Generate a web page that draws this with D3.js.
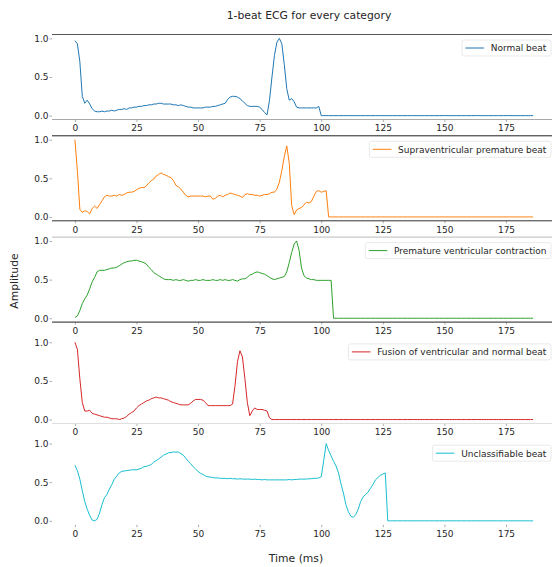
<!DOCTYPE html>
<html>
<head>
<meta charset="utf-8">
<script src="https://cdn.jsdelivr.net/npm/d3@7"></script>
<style>
    body { margin: 0; background: #fff; }
    text { font-family: 'DejaVu Sans', sans-serif; fill: #262626; }
</style>
</head>
<body>
<div id="chart"></div>
<script>
var categories = ['Normal beat', 'Supraventricular premature beat', 'Premature ventricular contraction',
    'Fusion of ventricular and normal beat', 'Unclassifiable beat'];

var normalBeat = [
    0.97,0.93,0.70,0.25,0.16,0.20,0.15,0.09,0.06,0.05,
    0.05,0.06,0.05,0.06,0.06,0.07,0.06,0.07,0.08,0.08,
    0.09,0.08,0.10,0.10,0.11,0.11,0.12,0.12,0.13,0.13,
    0.14,0.14,0.15,0.15,0.16,0.16,0.15,0.15,0.15,0.15,
    0.14,0.14,0.13,0.14,0.13,0.12,0.11,0.11,0.10,0.10,
    0.10,0.10,0.10,0.11,0.11,0.11,0.12,0.12,0.13,0.14,
    0.15,0.16,0.21,0.24,0.25,0.25,0.24,0.22,0.19,0.16,
    0.13,0.12,0.12,0.12,0.12,0.11,0.08,0.04,0.01,0.20,
    0.50,0.78,0.95,1.00,0.93,0.66,0.35,0.20,0.22,0.18,
    0.11,0.10,0.10,0.10,0.10,0.10,0.10,0.10,0.10,0.12,
    0,0,0,0,0,0,0,0,0,0, 0,0,0,0,0,0,0,0,0,0,
    0,0,0,0,0,0,0,0,0,0, 0,0,0,0,0,0,0,0,0,0,
    0,0,0,0,0,0,0,0,0,0, 0,0,0,0,0,0,0,0,0,0,
    0,0,0,0,0,0,0,0,0,0, 0,0,0,0,0,0,0,0,0,0,
    0,0,0,0,0,0,0
];

var supraBeat = [
    1.00,0.60,0.10,0.06,0.08,0.07,0.04,0.11,0.14,0.11,
    0.16,0.21,0.26,0.28,0.27,0.27,0.28,0.27,0.29,0.28,
    0.29,0.31,0.32,0.32,0.33,0.35,0.37,0.38,0.38,0.40,
    0.44,0.47,0.49,0.53,0.55,0.57,0.55,0.54,0.52,0.51,
    0.47,0.41,0.39,0.36,0.32,0.28,0.26,0.27,0.27,0.27,
    0.27,0.27,0.27,0.26,0.27,0.27,0.23,0.24,0.27,0.28,
    0.26,0.28,0.29,0.31,0.30,0.29,0.28,0.27,0.25,0.29,
    0.30,0.29,0.29,0.28,0.28,0.27,0.28,0.29,0.29,0.30,
    0.32,0.32,0.36,0.45,0.60,0.78,0.92,0.70,0.15,0.03,
    0.09,0.11,0.12,0.16,0.19,0.18,0.20,0.27,0.33,0.34,
    0.32,0.33,0.34,
    0,0,0,0,0,0,0,0,0,0, 0,0,0,0,0,0,0,0,0,0,
    0,0,0,0,0,0,0,0,0,0, 0,0,0,0,0,0,0,0,0,0,
    0,0,0,0,0,0,0,0,0,0, 0,0,0,0,0,0,0,0,0,0,
    0,0,0,0,0,0,0,0,0,0, 0,0,0,0,0,0,0,0,0,0,
    0,0,0,0
];

var pvcBeat = [
    0.01,0.03,0.10,0.19,0.25,0.30,0.38,0.47,0.53,0.60,
    0.62,0.62,0.62,0.63,0.64,0.65,0.65,0.66,0.68,0.70,
    0.72,0.73,0.74,0.74,0.75,0.75,0.74,0.73,0.72,0.70,
    0.66,0.63,0.59,0.57,0.55,0.53,0.51,0.50,0.50,0.50,
    0.49,0.50,0.49,0.49,0.50,0.49,0.48,0.49,0.49,0.50,
    0.49,0.49,0.50,0.49,0.49,0.49,0.50,0.49,0.49,0.50,
    0.49,0.50,0.49,0.49,0.50,0.49,0.48,0.50,0.51,0.51,
    0.53,0.56,0.57,0.59,0.60,0.59,0.58,0.57,0.55,0.53,
    0.51,0.50,0.51,0.52,0.53,0.54,0.60,0.72,0.85,0.96,
    1.00,0.88,0.65,0.55,0.52,0.51,0.50,0.50,0.49,0.49,
    0.49,0.49,0.49,0.49,0.49,
    0,0,0,0,0,0,0,0,0,0, 0,0,0,0,0,0,0,0,0,0,
    0,0,0,0,0,0,0,0,0,0, 0,0,0,0,0,0,0,0,0,0,
    0,0,0,0,0,0,0,0,0,0, 0,0,0,0,0,0,0,0,0,0,
    0,0,0,0,0,0,0,0,0,0, 0,0,0,0,0,0,0,0,0,0,
    0,0
];

var fusionBeat = [
    1.00,0.91,0.53,0.22,0.11,0.11,0.12,0.08,0.07,0.06,
    0.05,0.04,0.03,0.03,0.02,0.01,0.01,0.01,0.00,0.01,
    0.02,0.04,0.07,0.09,0.11,0.15,0.18,0.20,0.22,0.24,
    0.25,0.27,0.28,0.29,0.28,0.28,0.27,0.26,0.25,0.23,
    0.22,0.21,0.20,0.19,0.19,0.19,0.19,0.21,0.24,0.26,
    0.26,0.26,0.25,0.22,0.18,0.18,0.18,0.18,0.18,0.18,
    0.18,0.18,0.18,0.18,0.20,0.44,0.75,0.89,0.81,0.53,
    0.22,0.05,0.11,0.15,0.13,0.13,0.13,0.12,0.11,0.02,
    0,0,0,0,0,0,0,0,0,0, 0,0,0,0,0,0,0,0,0,0,
    0,0,0,0,0,0,0,0,0,0, 0,0,0,0,0,0,0,0,0,0,
    0,0,0,0,0,0,0,0,0,0, 0,0,0,0,0,0,0,0,0,0,
    0,0,0,0,0,0,0,0,0,0, 0,0,0,0,0,0,0,0,0,0,
    0,0,0,0,0,0,0,0,0,0, 0,0,0,0,0,0,0,0,0,0,
    0,0,0,0,0,0,0
];

var unknownBeat = [
    0.72,0.65,0.54,0.39,0.25,0.15,0.07,0.01,0.00,0.02,
    0.10,0.21,0.30,0.34,0.41,0.47,0.54,0.58,0.62,0.64,
    0.645,0.65,0.655,0.66,0.66,0.66,0.67,0.68,0.70,0.705,
    0.715,0.73,0.76,0.78,0.80,0.825,0.85,0.865,0.88,0.885,
    0.89,0.89,0.89,0.87,0.85,0.81,0.77,0.74,0.70,0.67,
    0.64,0.615,0.60,0.58,0.57,0.565,0.56,0.555,0.555,0.55,
    0.55,0.55,0.545,0.55,0.545,0.545,0.54,0.545,0.54,0.54,
    0.54,0.54,0.535,0.54,0.535,0.535,0.53,0.535,0.53,0.53,
    0.53,0.53,0.53,0.53,0.53,0.53,0.53,0.535,0.53,0.535,
    0.535,0.54,0.54,0.54,0.54,0.545,0.545,0.55,0.55,0.555,
    0.57,0.78,1.00,0.91,0.84,0.77,0.71,0.62,0.48,0.36,
    0.21,0.12,0.06,0.045,0.08,0.15,0.25,0.31,0.34,0.37,
    0.42,0.47,0.53,0.56,0.59,0.605,0.62,
    0,0,0,0,0,0,0,0,0,0, 0,0,0,0,0,0,0,0,0,0,
    0,0,0,0,0,0,0,0,0,0, 0,0,0,0,0,0,0,0,0,0,
    0,0,0,0,0,0,0,0,0,0, 0,0,0,0,0,0,0,0,0,0
];

var series = [normalBeat, supraBeat, pvcBeat, fusionBeat, unknownBeat];
var xTicks = [0, 25, 50, 75, 100, 125, 150, 175];
var yTicks = [0.0, 0.5, 1.0];

function drawEcg() {

    var width = 552, height = 567;
    var colors = ['#1f77b4', '#ff7f0e', '#2ca02c', '#d62728', '#17becf'];
    // the spines came out unevenly in the original picture
    var topSpine = ['#555', '#222', '#bbb', 'none', 'none'];
    var bottomSpine = ['#aaa', '#333', '#222', '#ddd', 'none'];

    var panelTop = 34.5, panelStep = 101.3, panelH = 85;
    var n = series[0].length;
    var pad = (n - 1) * 0.05;

    var canvas = d3.select('#chart').append('svg')
        .attr('width', width)
        .attr('height', height);

    var x = d3.scaleLinear()
        .domain([-pad, n - 1 + pad])
        .range([52, 556]);

    canvas.append('text')
        .attr('x', 309)
        .attr('y', 18.5)
        .attr('text-anchor', 'middle')
        .attr('font-size', '10.8px')
        .text('1-beat ECG for every category');

    series.forEach(function(values, i) {
        var top = panelTop + i * panelStep;
        var y = d3.scaleLinear()
            .domain([-0.05, 1.05])
            .range([top + panelH, top]);

        var group = canvas.append('g');

        var xAxis = group.append('g')
            .attr('transform', 'translate(0,' + (top + panelH) + ')')
            .call(d3.axisBottom(x).tickValues(xTicks).tickSize(2.5).tickPadding(3));
        xAxis.select('.domain').remove();

        var yAxis = group.append('g')
            .attr('transform', 'translate(52,0)')
            .call(d3.axisLeft(y).tickValues(yTicks).tickSize(2.5).tickPadding(1).tickFormat(d3.format('.1f')));
        yAxis.select('.domain').remove();

        group.selectAll('.tick line').attr('stroke', '#999').attr('stroke-width', 0.8);
        group.selectAll('.tick text')
            .attr('font-size', '9px')
            .attr('font-family', 'DejaVu Sans')
            .attr('fill', '#262626');

        group.append('line')
            .attr('x1', 52).attr('x2', 556)
            .attr('y1', top).attr('y2', top)
            .attr('stroke', topSpine[i]);
        group.append('line')
            .attr('x1', 52).attr('x2', 556)
            .attr('y1', top + panelH).attr('y2', top + panelH)
            .attr('stroke', bottomSpine[i]);

        var line = d3.line()
            .x(function(d, j) { return x(j); })
            .y(function(d) { return y(d); });

        group.append('path')
            .datum(values)
            .attr('fill', 'none')
            .attr('stroke', colors[i])
            .attr('stroke-width', 1)
            .attr('d', line);

        // legend box, upper right
        var legend = group.append('g');
        var box = legend.append('rect');
        var label = legend.append('text')
            .attr('font-size', '9px')
            .text(categories[i]);
        var tw = label.node().getComputedTextLength();
        var right = 551, bw = tw + 33.3, by = top + 5.5, bh = 16;
        var left = right - bw;
        box.attr('x', left).attr('y', by)
            .attr('width', bw).attr('height', bh)
            .attr('rx', 2)
            .attr('fill', '#fff')
            .attr('fill-opacity', 0.8)
            .attr('stroke', '#e3e3e3')
            .attr('stroke-width', 0.8);
        legend.append('line')
            .attr('x1', left + 3.4).attr('x2', left + 22)
            .attr('y1', by + bh / 2).attr('y2', by + bh / 2)
            .attr('stroke', colors[i])
            .attr('stroke-width', 1);
        label.attr('x', left + 28.7).attr('y', by + bh / 2 + 3.3);
    });

    canvas.append('text')
        .attr('transform', 'translate(17.5,281) rotate(-90)')
        .attr('text-anchor', 'middle')
        .attr('font-size', '10.8px')
        .text('Amplitude');

    canvas.append('text')
        .attr('x', 296)
        .attr('y', 561.5)
        .attr('text-anchor', 'middle')
        .attr('font-size', '10.8px')
        .text('Time (ms)');
}

drawEcg();
</script>
</body>
</html>
